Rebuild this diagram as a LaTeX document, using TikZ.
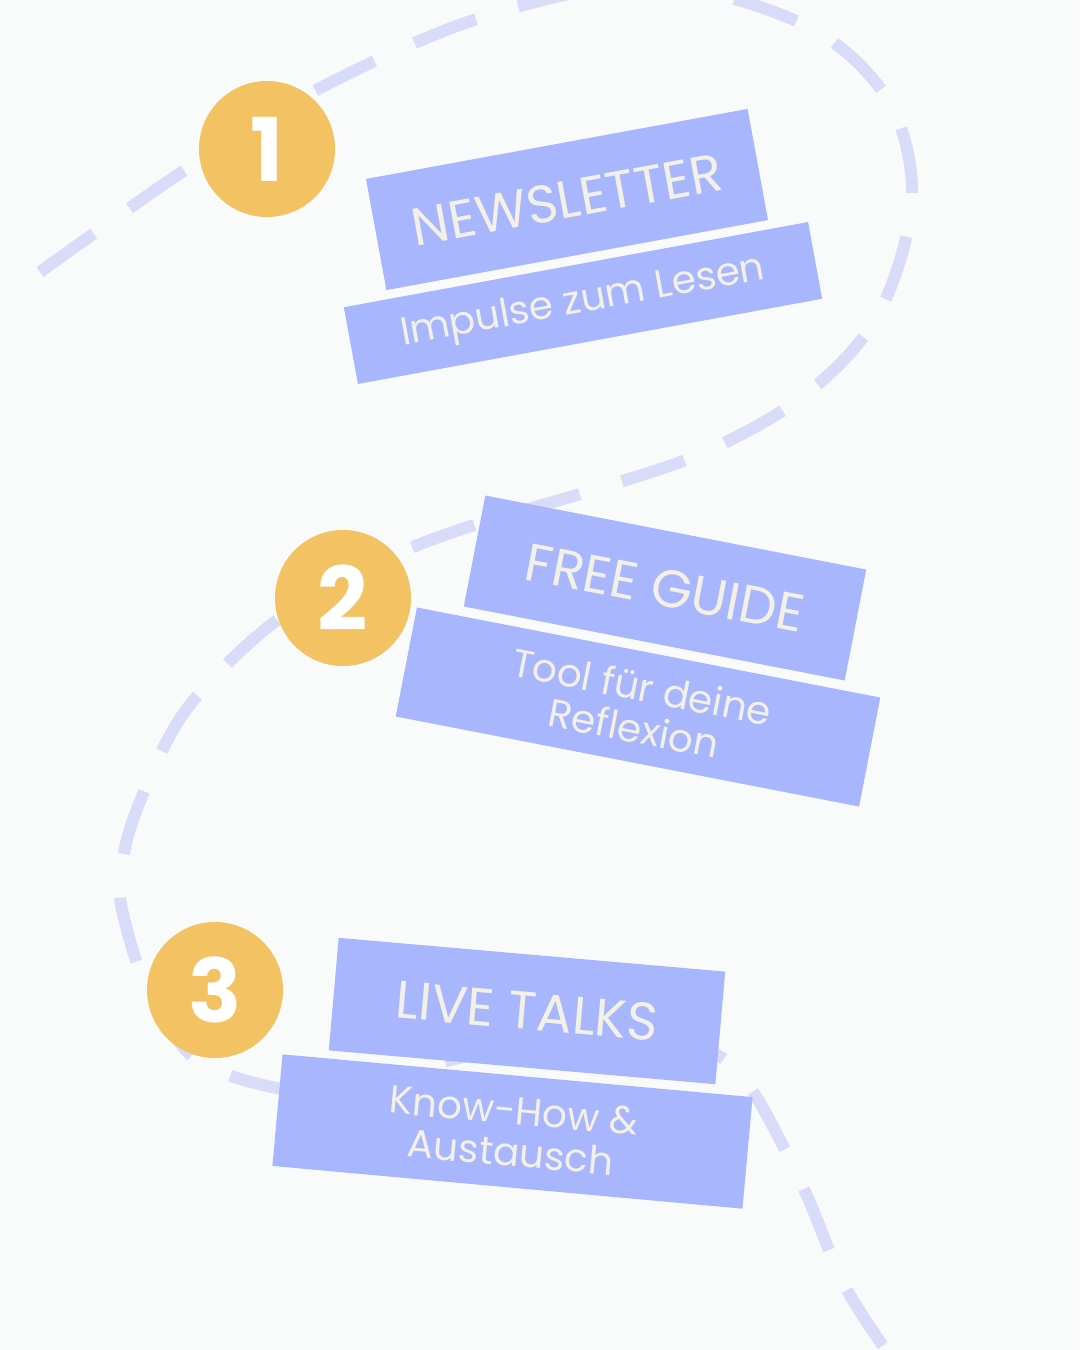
\documentclass[tikz,border=0pt]{standalone}
\usepackage{fontspec}
\setmainfont{Poppins}
\usepackage{tikz}
\definecolor{bgcol}{RGB}{249,251,250}
\definecolor{routecol}{RGB}{217,220,249}
\definecolor{boxcol}{RGB}{168,182,253}
\definecolor{dotcol}{RGB}{243,194,99}
\definecolor{textcol}{RGB}{243,240,230}

\begin{document}
\begin{tikzpicture}[x=1pt, y=-1pt,
  route/.style={routecol, line width=12pt, dash pattern=on 66pt off 44pt},
  title/.style={fill=boxcol, text=textcol, inner sep=0pt, minimum width=388pt,
    minimum height=113pt, font=\fontsize{53}{60}\selectfont},
  sub/.style={fill=boxcol, text=textcol, inner sep=0pt, align=center,
    minimum width=472pt, font=\fontsize{39}{42}\selectfont},
  num/.style={circle, fill=dotcol, text=white, minimum size=136pt, inner sep=0pt,
    font=\fontsize{88}{88}\selectfont\bfseries}]
  % the page
  \fill[bgcol] (0,0) rectangle (1080,1350);
  \useasboundingbox (0,0) rectangle (1080,1350);
  % the dashed route
  \draw[route] plot[smooth, tension=0.55] coordinates {(40,272) (185,170) (320,88)
    (480,18) (650,-16) (805,25) (888,100) (912,200) (878,315) (805,395) (705,452)
    (600,488) (450,533) (340,580) (256,637) (181,717) (134,817) (120,882) (126,926)
    (148,990) (193,1057) (263,1085) (330,1090) (428,1065) (560,1038) (650,1035)
    (712,1052) (752,1090) (803,1187) (846,1288) (900,1370)};
  % the boxes
  \node[title, rotate=10.4] (news) at (567,199.5) {NEWSLETTER};
  \node[sub, rotate=10.4, minimum height=78pt] (newsub) at (583,303) {Impulse zum Lesen};
  \node[title, rotate=-11] (guide) at (665,588) {FREE GUIDE};
  \node[sub, rotate=-11, minimum height=111pt] (guidesub) at (638,707) {Tool für deine\\Reflexion};
  \node[title, rotate=-5] (talks) at (527,1011) {LIVE TALKS};
  \node[sub, rotate=-5.2, minimum height=112pt] (talksub) at (512.5,1131.5) {Know-How \&\\Austausch};
  % the numbers
  \foreach \i/\x/\y in {1/267/149, 2/343/598, 3/215/990}
    \node[num] (n\i) at (\x,\y) {\i};
\end{tikzpicture}
\end{document}
